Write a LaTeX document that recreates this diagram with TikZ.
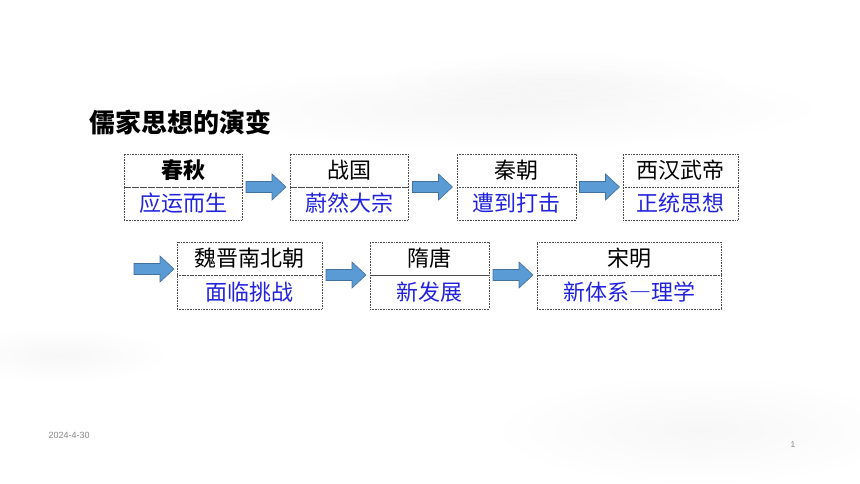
\documentclass[tikz,border=0pt]{standalone}
\usepackage{fontspec}
\setmainfont{Liberation Sans}
\newfontfamily\cjk{Noto Sans CJK SC}
\usetikzlibrary{calc,fadings}
\tikzfading[name=softout, inner color=transparent!0, outer color=transparent!100]
\definecolor{lblblue}{RGB}{34,34,222}
\definecolor{arrfill}{RGB}{91,155,213}
\definecolor{arrline}{RGB}{65,113,156}
\definecolor{footgray}{RGB}{137,137,137}
\tikzset{
  half/.style={draw=black!70, densely dotted, line width=0.6pt, inner sep=0pt, outer sep=0pt,
    font=\cjk\fontsize{22}{22}\selectfont},
  toplbl/.style={half, text=black},
  botlbl/.style={half, text=lblblue},
  arrowsty/.style={fill=arrfill, draw=arrline, line width=0.6pt, line join=miter},
  wash/.style={fill=black, path fading=softout}
}
\newcommand\blockarr[1]{%
  \filldraw[arrowsty] (#1) ++(-20,-5.5) -- ++(26,0) -- ++(0,-7.5) -- ++(14,13)
    -- ++(-14,13) -- ++(0,-7.5) -- ++(-26,0) -- cycle;}
\begin{document}
\begin{tikzpicture}[x=1pt,y=-1pt]
\useasboundingbox (0,0) rectangle (860,484);
\fill[white] (0,0) rectangle (860,484);
% faint ink-wash background
\fill[wash, opacity=0.035] (500,108) ellipse (330 and 42);
\fill[wash, opacity=0.025] (560,80) ellipse (180 and 30);
\fill[wash, opacity=0.03] (60,355) ellipse (110 and 28);
\fill[wash, opacity=0.03] (700,430) ellipse (210 and 55);
% title
\node[anchor=west, font=\cjk\bfseries\fontsize{26}{26}\selectfont] (title) at (86,122) {儒家思想的演变};
% row 1
\node[toplbl, minimum width=118, minimum height=33, font=\cjk\bfseries\fontsize{22}{22}\selectfont] (a1) at (183,170.5) {春秋};
\node[botlbl, minimum width=118, minimum height=33] (b1) at (183,203.5) {应运而生};
\node[toplbl, minimum width=118, minimum height=33] (a2) at (349,170.5) {战国};
\node[botlbl, minimum width=118, minimum height=33] (b2) at (349,203.5) {蔚然大宗};
\node[toplbl, minimum width=119, minimum height=33] (a3) at (516.5,170.5) {秦朝};
\node[botlbl, minimum width=119, minimum height=33] (b3) at (516.5,203.5) {遭到打击};
\node[toplbl, minimum width=115, minimum height=33] (a4) at (680.5,170.5) {西汉武帝};
\node[botlbl, minimum width=115, minimum height=33] (b4) at (680.5,203.5) {正统思想};
% row 2
\node[toplbl, minimum width=145, minimum height=33] (a5) at (249.5,258.5) {魏晋南北朝};
\node[botlbl, minimum width=145, minimum height=34] (b5) at (249.5,292) {面临挑战};
\node[toplbl, minimum width=119, minimum height=33] (a6) at (429.5,258.5) {隋唐};
\node[botlbl, minimum width=119, minimum height=34] (b6) at (429.5,292) {新发展};
\node[toplbl, minimum width=184, minimum height=33] (a7) at (629,258.5) {宋明};
\node[botlbl, minimum width=184, minimum height=34] (b7) at (629,292) {新体系―理学};
% arrows
\coordinate (r1) at ($(a1.south east)!0.5!(a2.south west)$);
\coordinate (r2) at ($(a2.south east)!0.5!(a3.south west)$);
\coordinate (r3) at ($(a3.south east)!0.5!(a4.south west)$);
\coordinate (r4) at (154,269);
\coordinate (r5) at ($(a5.south east)!0.5!(a6.south west)$);
\coordinate (r6) at ($(a6.south east)!0.5!(a7.south west)$);
\blockarr{r1}
\blockarr{r2}
\blockarr{r3}
\blockarr{r4}
\blockarr{r5}
\blockarr{r6}
% footer
\node[text=footgray, font=\fontsize{9}{9}\selectfont, anchor=west] (date) at (45,435) {2024-4-30};
\node[text=footgray, font=\fontsize{8.5}{8.5}\selectfont] (page) at (793,445) {1};
\end{tikzpicture}
\end{document}
